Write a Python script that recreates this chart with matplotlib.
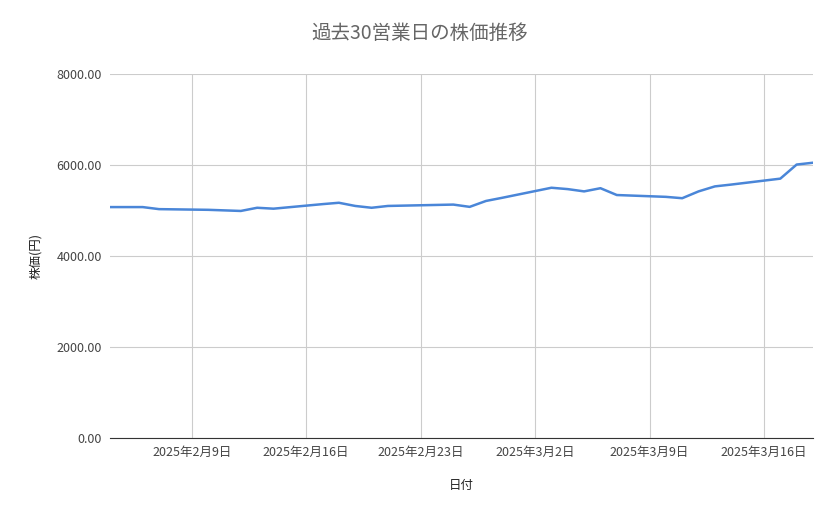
import numpy as np
import matplotlib.pyplot as plt
import matplotlib.dates as mdates
import pandas as pd

plt.rcParams['font.family'] = ['Noto Sans CJK JP', 'DejaVu Sans']

# trading days and closing prices
dates = pd.to_datetime([
    '2025-02-04', '2025-02-05', '2025-02-06', '2025-02-07', '2025-02-10',
    '2025-02-12', '2025-02-13', '2025-02-14', '2025-02-17', '2025-02-18',
    '2025-02-19', '2025-02-20', '2025-02-21', '2025-02-25', '2025-02-26',
    '2025-02-27', '2025-02-28', '2025-03-03', '2025-03-04', '2025-03-05',
    '2025-03-06', '2025-03-07', '2025-03-10', '2025-03-11', '2025-03-12',
    '2025-03-13', '2025-03-14', '2025-03-17', '2025-03-18', '2025-03-19'])
prices = [5075, 5075, 5075, 5030, 5015, 4990, 5060, 5040, 5140, 5170,
          5100, 5060, 5100, 5130, 5080, 5210, 5280, 5500, 5470, 5420,
          5490, 5340, 5300, 5270, 5420, 5530, 5570, 5700, 6010, 6050]
tick_dates = pd.to_datetime(['2025-02-09', '2025-02-16', '2025-02-23',
                             '2025-03-02', '2025-03-09', '2025-03-16'])

fig = plt.figure(figsize=(8.39, 5.19), dpi=100)
ax = fig.add_axes([110/839, 1-438/519, 703/839, 364/519])

ax.plot(dates, prices, color='#4a86d8', linewidth=1.8)

ax.set_xlim(pd.Timestamp('2025-02-04'), pd.Timestamp('2025-03-19'))
ax.set_ylim(0, 8000)
ax.set_yticks([0, 2000, 4000, 6000, 8000])
ax.yaxis.set_major_formatter(plt.FuncFormatter(lambda v, p: f'{v:.2f}'))
ax.set_xticks(tick_dates)
ax.set_xticklabels([f'{d.year}年{d.month}月{d.day}日' for d in tick_dates])

ax.grid(True, color='#cccccc', linewidth=0.8)
ax.set_axisbelow(True)
for s in ['top', 'right', 'left']:
    ax.spines[s].set_visible(False)
ax.spines['bottom'].set_color('#333333')
ax.tick_params(length=0, labelsize=9, colors='#444444', pad=6)

ax.set_xlabel('日付', fontsize=9, color='#222222', labelpad=14)
ax.set_ylabel('株価(円)', fontsize=9, color='#222222', labelpad=10)
fig.suptitle('過去30営業日の株価推移', x=0.5, y=0.955, fontsize=14, color='#666666')

plt.savefig('out.png', dpi=100)
